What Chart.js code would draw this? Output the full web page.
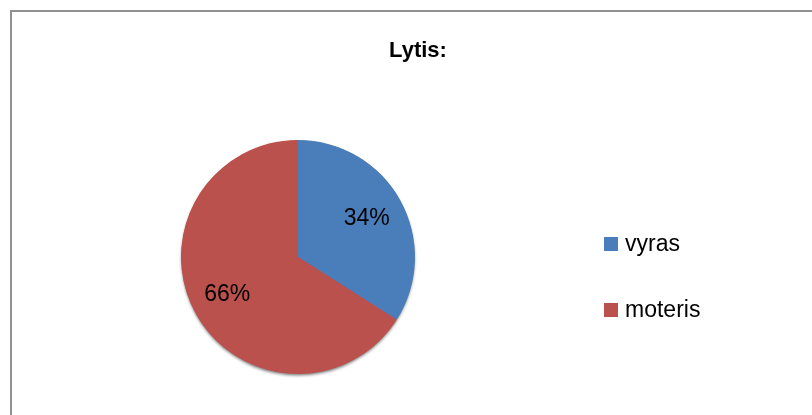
<!DOCTYPE html>
<html>
<head>
<meta charset="utf-8">
<script src="https://cdn.jsdelivr.net/npm/chart.js@4"></script>
<style>
  html, body { margin: 0; padding: 0; background: #fff; }
  #wrap { position: relative; width: 812px; height: 415px; overflow: hidden; }
  #frame { position: absolute; left: 10px; top: 10px; width: 900px; height: 500px;
           border-left: 2px solid #909090; border-top: 2px solid #909090; }
  canvas { position: absolute; left: 0; top: 0; }
</style>
</head>
<body>
<div id="wrap">
  <div id="frame"></div>
  <canvas id="c" width="812" height="415"></canvas>
</div>
<script>
const titleText = "Lytis:";
const categories = ["vyras", "moteris"];
const values = [34, 66];
const colors = ["#4a7ebb", "#bb514d"];

const fontFam = "'Liberation Sans', Arial, sans-serif";

const overlay = {
  id: 'overlay',
  beforeDatasetsDraw(chart) {
    // soft drop shadow under the whole pie
    const ctx = chart.ctx;
    const a = chart.getDatasetMeta(0).data[0];
    if (!a) return;
    ctx.save();
    ctx.shadowColor = 'rgba(0,0,0,0.5)';
    ctx.shadowBlur = 3;
    ctx.shadowOffsetX = 0;
    ctx.shadowOffsetY = 2;
    ctx.fillStyle = colors[1];
    ctx.beginPath();
    ctx.arc(a.x, a.y, a.outerRadius - 0.5, 0, Math.PI * 2);
    ctx.fill();
    ctx.restore();
  },
  afterDatasetsDraw(chart) {
    const ctx = chart.ctx;
    ctx.save();
    // title
    ctx.fillStyle = '#000';
    ctx.font = "bold 22px " + fontFam;
    ctx.textAlign = 'center';
    ctx.textBaseline = 'alphabetic';
    ctx.fillText(titleText, 418, 57);
    // data labels
    const meta = chart.getDatasetMeta(0);
    const total = values.reduce((a, b) => a + b, 0);
    ctx.font = "23px " + fontFam;
    meta.data.forEach((arc, i) => {
      const mid = (arc.startAngle + arc.endAngle) / 2;
      const r = arc.outerRadius * 0.68;
      const x = arc.x + Math.cos(mid) * r;
      const y = arc.y + Math.sin(mid) * r;
      ctx.fillText(Math.round(values[i] / total * 100) + '%', x - 1, y + 6);
    });
    // legend
    ctx.textAlign = 'left';
    ctx.textBaseline = 'middle';
    categories.forEach((c, i) => {
      const y = 244 + i * 66;
      ctx.fillStyle = colors[i];
      ctx.fillRect(604, y - 7, 14, 14);
      ctx.fillStyle = '#000';
      ctx.fillText(c, 625, y + 1);
    });
    ctx.restore();
  }
};

new Chart(document.getElementById('c'), {
  type: 'pie',
  data: {
    labels: categories,
    datasets: [{ data: values, backgroundColor: colors, borderWidth: 0 }]
  },
  options: {
    responsive: false,
    animation: false,
    layout: { padding: { left: 181, right: 397, top: 140, bottom: 41 } },
    plugins: { legend: { display: false }, tooltip: { enabled: false }, title: { display: false } }
  },
  plugins: [overlay]
});
</script>
</body>
</html>
